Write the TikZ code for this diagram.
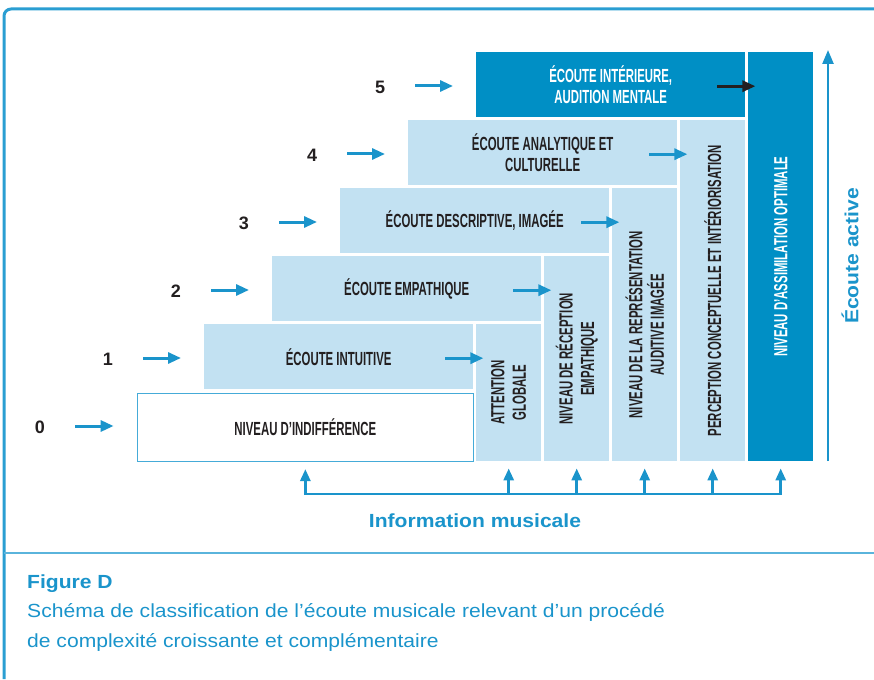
\documentclass[tikz,border=0pt]{standalone}
\usepackage{fontspec}
\setmainfont{Liberation Sans}
\newfontfamily\boxfont[FakeStretch=0.6]{Liberation Sans}
\newfontfamily\capfont[FakeStretch=1.11]{Liberation Sans}
\usetikzlibrary{arrows.meta}

\definecolor{deepblue}{HTML}{008FC5}
\definecolor{paleblue}{HTML}{C2E1F2}
\definecolor{arrowblue}{HTML}{1A94CB}
\definecolor{edgeblue}{HTML}{45ABD8}
\definecolor{inkdark}{HTML}{231F20}
\definecolor{framecol}{HTML}{2A9ED2}
\definecolor{rulecol}{HTML}{5AB4DC}

\tikzset{
  x=1pt, y=-1pt,
  lightbox/.style={fill=paleblue, draw=none, inner sep=0pt, anchor=north west},
  darkbox/.style={fill=deepblue, draw=none, inner sep=0pt, anchor=north west},
  boxtext/.style={text=inkdark, align=center, inner sep=0pt,
    font=\boxfont\bfseries\fontsize{19}{21.5}\selectfont},
  whitetext/.style={boxtext, text=white},
  levelnum/.style={text=inkdark, inner sep=0pt, font=\bfseries\fontsize{18}{20}\selectfont},
  blueharrow/.style={draw=arrowblue, line width=3pt,
    -{Triangle[length=13pt,width=11pt]}},
  blackharrow/.style={draw=inkdark, line width=3pt,
    -{Triangle[length=13pt,width=11pt]}},
  infoarrow/.style={draw=arrowblue, line width=2.8pt,
    -{Triangle[length=12pt,width=10pt]}},
  infoline/.style={draw=arrowblue, line width=2.8pt},
  bluelabel/.style={text=arrowblue, inner sep=0pt,
    font=\capfont\bfseries\fontsize{19}{22}\selectfont},
  captext/.style={text=arrowblue, inner sep=0pt, anchor=base west,
    font=\capfont\fontsize{19}{22}\selectfont},
}

\begin{document}
\begin{tikzpicture}
\useasboundingbox (0,0) rectangle (874,679);

% outer frame and caption rule
\draw[framecol, line width=3pt, rounded corners=7pt] (4,679) -- (4,9) -- (874,9);
\draw[rulecol, line width=2pt] (4,553) -- (874,553);

% level 0 (white box)
\node[draw=edgeblue, line width=1.5pt, fill=white, inner sep=0pt, anchor=north west,
      minimum width=336pt, minimum height=68pt] (b0) at (136.6,392.6) {};
% staircase of listening levels
\node[lightbox, minimum width=269pt, minimum height=65pt] (b1) at (204,324) {};
\node[lightbox, minimum width=269pt, minimum height=65pt] (b2) at (272,256) {};
\node[lightbox, minimum width=269pt, minimum height=65pt] (b3) at (340,188) {};
\node[lightbox, minimum width=269pt, minimum height=65pt] (b4) at (408,120) {};
\node[darkbox,  minimum width=269pt, minimum height=65pt] (b5) at (476,52) {};

% vertical columns
\node[lightbox, minimum width=65pt, minimum height=137pt] (c1) at (476,324) {};
\node[lightbox, minimum width=65pt, minimum height=205pt] (c2) at (544,256) {};
\node[lightbox, minimum width=65pt, minimum height=273pt] (c3) at (612,188) {};
\node[lightbox, minimum width=65pt, minimum height=341pt] (c4) at (680,120) {};
\node[darkbox,  minimum width=65pt, minimum height=409pt] (c5) at (748,52) {};

% box labels
\node[boxtext] (t0) at (b0.center) {NIVEAU D’INDIFFÉRENCE};
\node[boxtext] (t1) at (b1.center) {ÉCOUTE INTUITIVE};
\node[boxtext] (t2) at (b2.center) {ÉCOUTE EMPATHIQUE};
\node[boxtext] (t3) at (b3.center) {ÉCOUTE DESCRIPTIVE, IMAGÉE};
\node[boxtext] (t4) at (b4.center) {ÉCOUTE ANALYTIQUE ET\\CULTURELLE};
\node[whitetext] (t5) at (b5.center) {ÉCOUTE INTÉRIEURE,\\AUDITION MENTALE};

\node[boxtext, rotate=90] (v1) at (c1.center) {ATTENTION\\GLOBALE};
\node[boxtext, rotate=90] (v2) at (c2.center) {NIVEAU DE RÉCEPTION\\EMPATHIQUE};
\node[boxtext, rotate=90] (v3) at (c3.center) {NIVEAU DE LA REPRÉSENTATION\\AUDITIVE IMAGÉE};
\node[boxtext, rotate=90] (v4) at (c4.center) {PERCEPTION CONCEPTUELLE ET INTÉRIORISATION};
\node[whitetext, rotate=90] (v5) at (c5.center) {NIVEAU D’ASSIMILATION OPTIMALE};

% level numbers with their arrows
\node[levelnum] (n0) at (40,427) {0};
\node[levelnum] (n1) at (108,359) {1};
\node[levelnum] (n2) at (176,291) {2};
\node[levelnum] (n3) at (244,223) {3};
\node[levelnum] (n4) at (312,155) {4};
\node[levelnum] (n5) at (380,87) {5};
\foreach \k in {0,...,5}{
  \draw[blueharrow] ([xshift=30pt,yshift=1pt]n\k.east) -- ([xshift=-23pt,yshift=1pt]b\k.west |- n\k.east);
}

% arrows from each level into the next column
\foreach \k in {1,...,4}{
  \draw[blueharrow] ([xshift=-28pt,yshift=-1.5pt]b\k.east) -- ([xshift=10pt,yshift=-1.5pt]b\k.east);
}
\draw[blackharrow] ([xshift=-28pt,yshift=-1.5pt]b5.east) -- ([xshift=10pt,yshift=-1.5pt]b5.east);

% musical information bracket
\coordinate (brk) at (0,494);
\draw[infoline] ([xshift=-1.4pt]b0.south |- brk) -- ([xshift=1.4pt]c5.south |- brk);
\foreach \n in {b0,c1,c2,c3,c4,c5}{
  \draw[infoarrow] (\n.south |- brk) -- ([yshift=-7pt]\n.south);
}
\node[bluelabel] (info) at (475,521) {Information musicale};

% active listening axis
\coordinate (actbot) at (828,461);
\coordinate (acttop) at (828,50);
\draw[draw=arrowblue, line width=2.4pt, -{Triangle[length=14pt,width=11pt]}] (actbot) -- (acttop);
\node[bluelabel, rotate=90] (active) at (850,256) {Écoute active};

% caption
\node[captext, font=\capfont\bfseries\fontsize{19}{22}\selectfont] (figd) at (27,588) {Figure D};
\node[captext] (cap1) at (27,617) {Schéma de classification de l’écoute musicale relevant d’un procédé};
\node[captext] (cap2) at (27,647) {de complexité croissante et complémentaire};
\end{tikzpicture}
\end{document}
